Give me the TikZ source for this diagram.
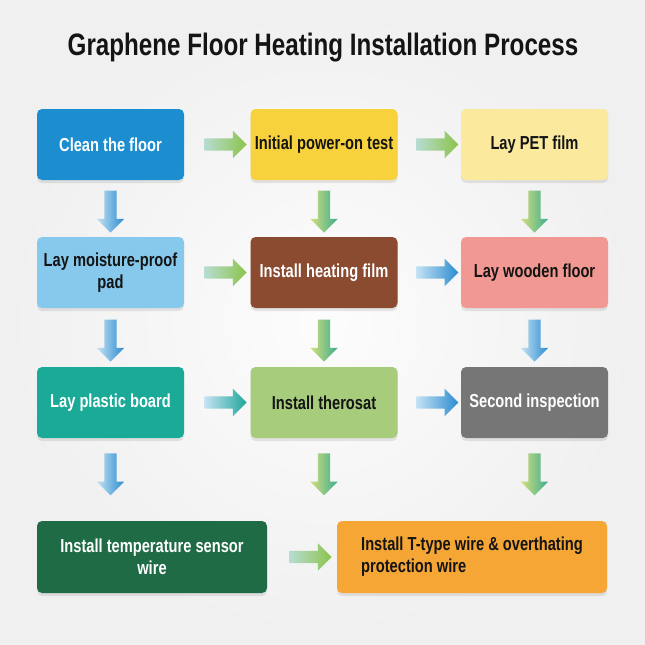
\documentclass[tikz,border=0pt]{standalone}
\usepackage{fontspec}
\setmainfont{Liberation Sans}[FakeStretch=0.78]
\usetikzlibrary{shapes.arrows,shadows}
\definecolor{cleanblue}{HTML}{1C8ECF}
\definecolor{poweryellow}{HTML}{F8D23C}
\definecolor{petyellow}{HTML}{FBEA9E}
\definecolor{moistblue}{HTML}{86C9EC}
\definecolor{heatbrown}{HTML}{8A4B30}
\definecolor{woodpink}{HTML}{F19892}
\definecolor{plasticteal}{HTML}{1BAA98}
\definecolor{thermgreen}{HTML}{A7CD7C}
\definecolor{inspectgray}{HTML}{767676}
\definecolor{sensorgreen}{HTML}{1F6B46}
\definecolor{wireorange}{HTML}{F5A634}
\definecolor{darktext}{HTML}{141414}
\definecolor{arrblue}{HTML}{2B8CD0}
\definecolor{arrbluepale}{HTML}{C4E2F3}
\definecolor{arrteal}{HTML}{3AAE8C}
\definecolor{arrlime}{HTML}{D6DE80}
\definecolor{arrgreen}{HTML}{8CC34B}
\definecolor{arrgreenpale}{HTML}{B6DCD0}
\definecolor{arrcyan}{HTML}{1FA69A}
\tikzset{
  box/.style={rectangle, rounded corners=5pt, minimum width=147pt, minimum height=71pt,
    align=center, font=\bfseries\fontsize{18.8}{22}\selectfont, text=darktext,
    drop shadow={opacity=0.18, shadow xshift=0pt, shadow yshift=-3pt}},
  flow/.style={single arrow, draw=none, inner sep=0pt, inner ysep=6pt,
    single arrow head extend=7.5pt, minimum height=42pt},
  greenflow/.style={flow, left color=arrgreenpale, right color=arrgreen},
  blueflow/.style={flow, left color=arrbluepale, right color=arrblue},
  cyanflow/.style={flow, left color=arrbluepale, right color=arrcyan},
  downblue/.style={flow, rotate=-90, left color=arrbluepale, right color=arrblue},
  downgreen/.style={flow, rotate=-90, left color=arrlime, right color=arrteal}
}
\begin{document}
\begin{tikzpicture}[x=1pt,y=-1pt]
\fill[inner color=black!1, outer color=black!6] (0,0) rectangle (645,645);
\node[font=\bfseries\fontsize{31}{36}\selectfont, text=darktext] (title) at (323,48) {Graphene Floor Heating Installation Process};

\node[box, fill=cleanblue, text=white] (clean) at (110.5,144.5) {Clean the floor};
\node[box, fill=poweryellow] (power) at (324,144.5) {Initial power-on test};
\node[box, fill=petyellow] (pet) at (534.5,144.5) {Lay PET film};
\node[box, fill=moistblue] (moist) at (110.5,272.5) {Lay moisture-proof\\pad};
\node[box, fill=heatbrown, text=white] (heat) at (324,272.5) {Install heating film};
\node[box, fill=woodpink] (wood) at (534.5,272.5) {Lay wooden floor};
\node[box, fill=plasticteal, text=white] (plastic) at (110.5,402.5) {Lay plastic board};
\node[box, fill=thermgreen] (therm) at (324,402.5) {Install therosat};
\node[box, fill=inspectgray, text=white] (second) at (534.5,402.5) {Second inspection};
\node[box, fill=sensorgreen, text=white, minimum width=230pt, minimum height=72pt] (sensor) at (152,557) {Install temperature sensor\\wire};
\node[box, fill=wireorange, align=left, minimum width=270pt, minimum height=72pt] (wire) at (472,557) {Install T-type wire \& overthating\\protection wire};

\path (clean.east) -- (power.west) node[greenflow, pos=0.58] {};
\path (power.east) -- (pet.west) node[greenflow, pos=0.58] {};
\path (moist.east) -- (heat.west) node[greenflow, pos=0.58] {};
\path (heat.east) -- (wood.west) node[blueflow, pos=0.58] {};
\path (plastic.east) -- (therm.west) node[cyanflow, pos=0.58] {};
\path (therm.east) -- (second.west) node[blueflow, pos=0.58] {};
\path (sensor.east) -- (wire.west) node[greenflow, pos=0.58] {};

\path (clean.south) -- (moist.north) node[downblue, midway] {};
\path (moist.south) -- (plastic.north) node[downblue, midway] {};
\path (plastic.south) -- (plastic.south |- sensor.north) node[downblue, pos=0.4] {};
\path (power.south) -- (heat.north) node[downgreen, midway] {};
\path (heat.south) -- (therm.north) node[downgreen, midway] {};
\path (therm.south) -- (therm.south |- sensor.north) node[downgreen, pos=0.4] {};
\path (pet.south) -- (wood.north) node[downgreen, midway] {};
\path (wood.south) -- (second.north) node[downblue, midway] {};
\path (second.south) -- (second.south |- wire.north) node[downgreen, pos=0.4] {};
\end{tikzpicture}
\end{document}
